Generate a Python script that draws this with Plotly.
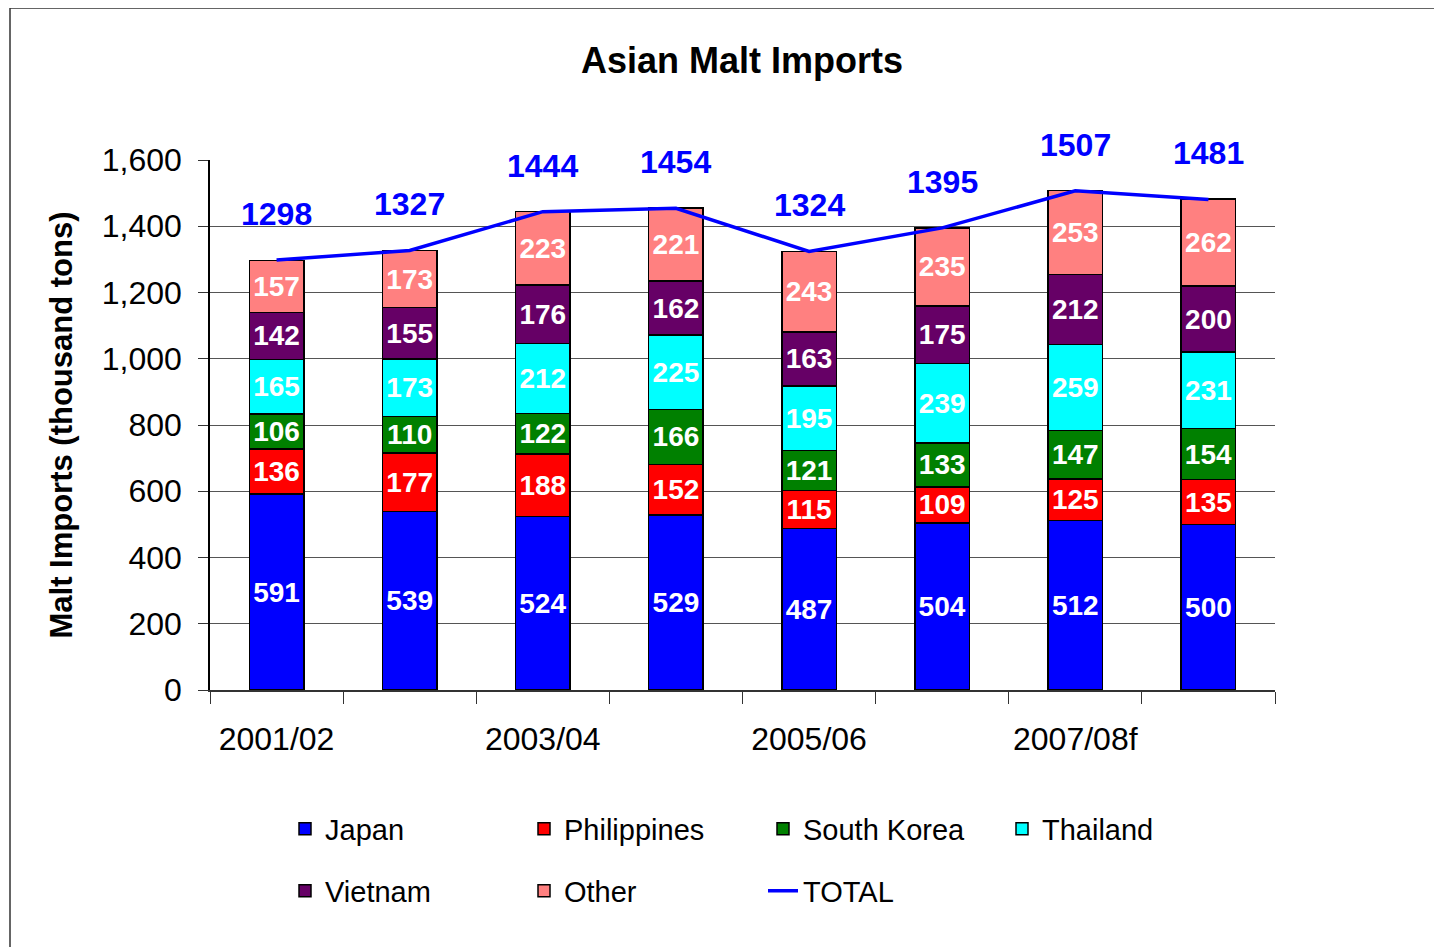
import plotly.graph_objects as go

# Data (thousand tons)
seasons = ["2001/02", "2002/03", "2003/04", "2004/05", "2005/06", "2006/07", "2007/08f", "2008/09f"]
japan = [591, 539, 524, 529, 487, 504, 512, 500]
philippines = [136, 177, 188, 152, 115, 109, 125, 135]
south_korea = [106, 110, 122, 166, 121, 133, 147, 154]
thailand = [165, 173, 212, 225, 195, 239, 259, 231]
vietnam = [142, 155, 176, 162, 163, 175, 212, 200]
other = [157, 173, 223, 221, 243, 235, 253, 262]
total = [1298, 1327, 1444, 1454, 1324, 1395, 1507, 1481]

FONT = "Liberation Sans, Arial, sans-serif"

# page body adds an 8px margin, so work in image pixels and subtract it
OFF = 8
W, H = 1442 - OFF, 947 - OFF
PL, PR, PT, PB = 210 - OFF, 1275 - OFF, 160 - OFF, 690 - OFF
PW, PH = PR - PL, PB - PT


def px_x(x):
    return (x - OFF - PL) / PW


def px_y(y):
    return (PB - (y - OFF)) / PH


series = [
    ("Japan", japan, "#0000FF", "legend"),
    ("Philippines", philippines, "#FF0000", "legend"),
    ("South Korea", south_korea, "#008000", "legend"),
    ("Thailand", thailand, "#00FFFF", "legend"),
    ("Vietnam", vietnam, "#660066", "legend2"),
    ("Other", other, "#FF8080", "legend2"),
]

fig = go.Figure()
for name, vals, color, leg in series:
    fig.add_trace(go.Bar(
        x=seasons, y=vals, name=name,
        marker=dict(color=color, line=dict(color="black", width=1.5)),
        text=vals, textposition="inside", insidetextanchor="middle",
        constraintext="none",
        textfont=dict(color="white", size=28, family=FONT, weight="bold"),
        legend=leg,
    ))

fig.add_trace(go.Scatter(
    x=seasons, y=total, name="TOTAL", mode="lines",
    line=dict(color="#0000FF", width=3.5), legend="legend2",
))

# total labels above the line
for s, t in zip(seasons, total):
    fig.add_annotation(x=s, y=t, text=str(t), showarrow=False, yshift=46,
                       font=dict(color="#0000FF", size=32, family=FONT, weight="bold"))

# outer chart frame
fig.add_shape(type="rect", xref="paper", yref="paper",
              x0=px_x(10), x1=px_x(1470), y0=px_y(970), y1=px_y(8),
              line=dict(color="#333333", width=1.5), layer="below")

fig.update_layout(
    width=W, height=H,
    margin=dict(l=PL, r=W - PR, t=PT, b=H - PB),
    paper_bgcolor="white", plot_bgcolor="white",
    barmode="stack", bargap=0.59,
    uniformtext=dict(mode="show", minsize=28),
    font=dict(family=FONT, color="black"),
    title=dict(text="<b>Asian Malt Imports</b>", x=(742 - OFF) / W, xanchor="center",
               y=1 - (60 - OFF) / H, yanchor="middle", font=dict(size=36)),
    xaxis=dict(
        tickvals=seasons,
        ticktext=[s if i % 2 == 0 else "" for i, s in enumerate(seasons)],
        tickson="boundaries", ticks="outside", ticklen=12, tickcolor="#333",
        showline=True, linecolor="#333", linewidth=1.5, tickangle=0,
        tickfont=dict(size=32), showgrid=False, ticklabelstandoff=20,
    ),
    yaxis=dict(
        range=[0, 1600], dtick=200, tickformat=",",
        ticks="outside", ticklen=10, tickcolor="#333",
        showline=True, linecolor="black", linewidth=1.5,
        showgrid=True, gridcolor="#555555", gridwidth=1.2,
        tickfont=dict(size=32), zeroline=False, ticklabelstandoff=10,
        title=dict(text="<b>Malt Imports (thousand tons)</b>", font=dict(size=31), standoff=20),
    ),
    legend=dict(orientation="h", x=px_x(285), xanchor="left",
                y=px_y(829), yanchor="middle",
                entrywidth=194, entrywidthmode="pixels",
                font=dict(size=29), bgcolor="rgba(0,0,0,0)", traceorder="normal"),
    legend2=dict(orientation="h", x=px_x(285), xanchor="left",
                 y=px_y(891), yanchor="middle",
                 entrywidth=194, entrywidthmode="pixels",
                 font=dict(size=29), bgcolor="rgba(0,0,0,0)", traceorder="normal"),
    showlegend=True,
)

fig.write_html("out.html")
